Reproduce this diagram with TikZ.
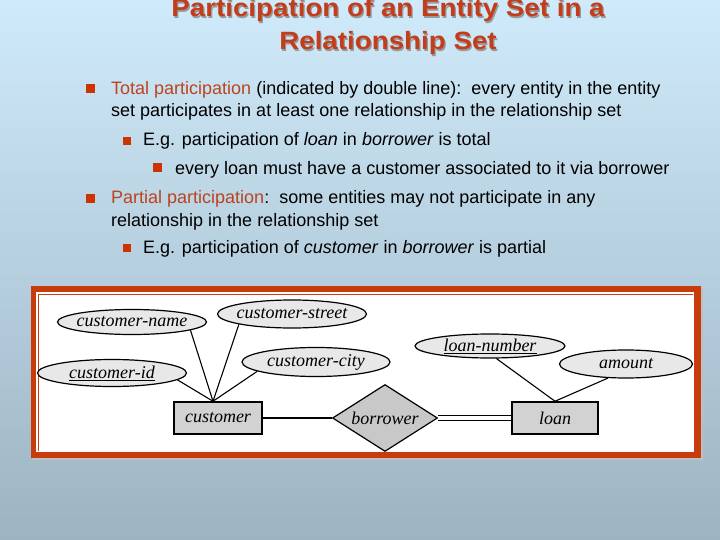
\documentclass[tikz,border=0pt]{standalone}
\usepackage{fontspec}
\usetikzlibrary{shapes.geometric}

\newfontfamily\slidefont{Liberation Sans}
\newfontfamily\titlefont[FakeStretch=1.11]{Liberation Sans}
\newfontfamily\diagfont{Liberation Serif}

\definecolor{bgtop}{HTML}{CFEAFA}
\definecolor{bgbottom}{HTML}{9DB3C2}
\definecolor{titlered}{HTML}{C43D1A}
\definecolor{termred}{HTML}{BC431E}
\definecolor{bulletred}{HTML}{CC3300}
\definecolor{framered}{HTML}{C83C0C}
\definecolor{attrgray}{HTML}{E8E8E8}
\definecolor{entgray}{HTML}{D2D2D2}
\definecolor{relgray}{HTML}{C8C8C8}

\newcommand{\erfont}{\diagfont\fontsize{18}{21}\selectfont\itshape}
\newcommand{\bodyfont}{\slidefont\fontsize{18}{21}\selectfont}
\newcommand{\attrlabel}[1]{\makebox[0pt]{#1}}

\tikzset{
  attr/.style={ellipse, draw, line width=1.2pt, fill=attrgray, inner sep=0pt,
    minimum width=149pt, minimum height=26pt, font=\erfont},
  entity/.style={rectangle, draw, line width=1.5pt, fill=entgray, inner sep=0pt,
    minimum width=88pt, minimum height=32pt, font=\erfont},
  rel/.style={diamond, draw, line width=1.2pt, fill=relgray, inner sep=0pt,
    aspect=1.57, minimum width=105pt, minimum height=67pt, font=\erfont},
  link/.style={line width=1.1pt},
  txt/.style={anchor=base west, inner sep=0pt, font=\bodyfont},
  headline/.style={anchor=base, inner sep=0pt, font=\titlefont\bfseries\fontsize{25}{30}\selectfont},
  bul/.style={fill=bulletred, inner sep=0pt, minimum size=9pt},
  subbul/.style={fill=bulletred, inner sep=0pt, minimum size=8pt}
}

\begin{document}
\begin{tikzpicture}[x=1pt, y=-1pt]
    % Slide background
    \shade[top color=bgtop, bottom color=bgbottom] (0,0) rectangle (720,540);
    \useasboundingbox (0,0) rectangle (720,540);

    % Title with its shadow
    \node[headline, text=black!40] (shadow1) at (389.2,18.2) {Participation of an Entity Set in a};
    \node[headline, text=black!40] (shadow2) at (389.2,51.2) {Relationship Set};
    \node[headline, text=titlered] (title1) at (388,17) {Participation of an Entity Set in a};
    \node[headline, text=titlered] (title2) at (388,50) {Relationship Set};

    % Bullet points
    \node[bul] (b1) at (90,89) {};
    \node[txt] (t1) at (111,95) {\textcolor{termred}{Total participation} (indicated by double line):\ \ every entity in the entity};
    \node[txt] (t2) at (111,117) {set participates in at least one relationship in the relationship set};
    \node[subbul] (b2) at (127,141) {};
    \node[txt] (t3) at (143,146) {E.g. participation of \textit{loan} in \textit{borrower} is total};
    \node[bul] (b3) at (157,168) {};
    \node[txt] (t4) at (175,175) {every loan must have a customer associated to it via borrower};
    \node[bul] (b4) at (90,199) {};
    \node[txt] (t5) at (111,204) {\textcolor{termred}{Partial participation}:\ \ some entities may not participate in any};
    \node[txt] (t6) at (111,226) {relationship in the relationship set};
    \node[subbul] (b5) at (127,248) {};
    \node[txt] (t7) at (143,254) {E.g. participation of \textit{customer} in \textit{borrower} is partial};

    % Frame of the E-R diagram
    \fill[black!25] (33,288) rectangle (703,460);
    \fill[framered] (31,286) rectangle (701,458);
    \fill[white] (36,292) rectangle (694,452);
    \draw[framered, line width=0.6pt] (38,451) -- (38,294) -- (693,294);

    % Entity sets and relationship set
    \node[entity] (customer) at (218,418) {customer};
    \node[rel] (borrower) at (385,418) {borrower};
    \node[entity, minimum width=86pt] (loan) at (555,418) {loan};

    % Attributes
    \node[attr, minimum height=25pt] (cname) at (132,322) {\attrlabel{customer-name}};
    \node[attr, minimum height=28pt] (cstreet) at (292,314) {\attrlabel{customer-street}};
    \node[attr, minimum height=27pt] (cid) at (112,373) {\attrlabel{\underline{customer-id}}};
    \node[attr, minimum width=148pt, minimum height=29pt] (ccity) at (316,362) {\attrlabel{customer-city}};
    \node[attr, minimum width=150pt, minimum height=24pt] (lnum) at (490,346) {\attrlabel{\underline{loan-number}}};
    \node[attr, minimum width=133pt, minimum height=28pt] (amount) at (626,364) {\attrlabel{amount}};

    % Attribute links
    \coordinate (cjoin) at ([xshift=-5pt]customer.north);
    \draw[link] (cname.-8) -- (cjoin);
    \draw[link] (cstreet.-169) -- (cjoin);
    \draw[link] (ccity.-171) -- (cjoin);
    \draw[link] (cid.-6) -- (cjoin);
    \draw[link] (lnum.-63) -- (loan.north);
    \draw[link] (amount.-142) -- (loan.north);

    % Partial (single) and total (double) participation
    \draw[link] (customer) -- (borrower);
    \draw[link, double, double distance=3.5pt] (borrower) -- (loan);
\end{tikzpicture}
\end{document}
